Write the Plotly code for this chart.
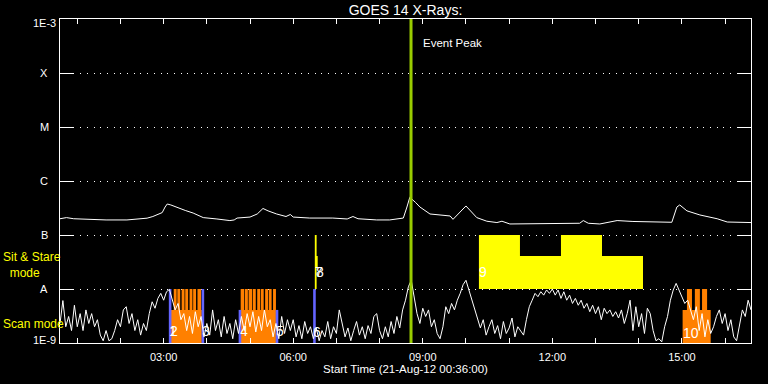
import pandas as pd
import numpy as np
import plotly.graph_objects as go

DAY = "2012-08-21"
START = "00:36"
END = "16:36"

# GOES long channel (1-8 A) flux, W/m^2
long_times = ["00:36", "00:45", "00:55", "01:15", "01:40", "02:09", "02:25", "02:37", "02:45",
              "02:51", "02:58", "03:02", "03:05", "03:10", "03:19", "03:30", "03:41", "03:55",
              "04:14", "04:32", "04:38", "04:42", "05:00", "05:10", "05:18", "05:25", "05:37",
              "05:50", "05:56", "06:00", "06:23", "06:55", "07:15", "07:23", "07:30", "07:56",
              "08:14", "08:33", "08:38", "08:42", "08:50", "08:56", "09:10", "09:28", "09:38",
              "09:42", "09:49", "10:00", "10:15", "10:29", "10:43", "10:50", "11:01", "11:40",
              "12:00", "12:20", "12:38", "12:43", "12:50", "13:06", "13:30", "13:52", "14:16",
              "14:39", "14:46", "14:53", "14:57", "15:07", "15:25", "15:49", "16:03", "16:36"]
long_flux = [2.0e-7, 2.1e-7, 2.0e-7, 1.95e-7, 1.9e-7, 1.9e-7, 1.95e-7, 2.05e-7, 2.2e-7,
             2.35e-7, 2.6e-7, 3.3e-7, 3.75e-7, 3.6e-7, 3.2e-7, 2.85e-7, 2.55e-7, 2.1e-7,
             1.98e-7, 1.85e-7, 1.9e-7, 2.06e-7, 2.15e-7, 2.45e-7, 3.1e-7, 2.8e-7, 2.45e-7,
             2.2e-7, 2.4e-7, 2.15e-7, 2.06e-7, 2.06e-7, 1.98e-7, 2.2e-7, 2.0e-7, 1.9e-7,
             1.9e-7, 2.06e-7, 3.3e-7, 5.0e-7, 4.0e-7, 3.3e-7, 2.45e-7, 2.35e-7, 2.25e-7,
             1.95e-7, 2.45e-7, 3.45e-7, 2.1e-7, 1.8e-7, 1.7e-7, 1.8e-7, 1.6e-7, 1.6e-7,
             1.62e-7, 1.6e-7, 1.65e-7, 1.85e-7, 1.65e-7, 1.6e-7, 1.85e-7, 1.78e-7, 1.74e-7,
             1.74e-7, 1.72e-7, 3.3e-7, 3.6e-7, 2.8e-7, 2.35e-7, 2.0e-7, 1.74e-7, 1.7e-7]

# GOES short channel (0.5-4 A) flux, W/m^2, 4-minute cadence from START
short_cadence = "4min"
short_flux = [
    2.3e-9, 6.1e-9, 2.0e-9, 3.1e-9, 1.7e-9, 5.0e-9, 2.0e-9, 3.5e-9, 1.7e-9, 4.1e-9,
    2.3e-9, 3.5e-9, 2.0e-9, 2.7e-9, 1.4e-9, 1.1e-9, 1.7e-9, 1.1e-9, 1.2e-9, 1.7e-9,
    2.7e-9, 2.0e-9, 4.1e-9, 4.7e-9, 2.3e-9, 3.5e-9, 1.7e-9, 2.7e-9, 1.4e-9, 2.3e-9,
    1.7e-9, 3.5e-9, 5.8e-9, 4.4e-9, 6.7e-9, 8.3e-9, 6.2e-9, 8.9e-9, 9.8e-9, 6.2e-9,
    4.1e-9, 5.4e-9, 2.7e-9, 3.5e-9, 1.7e-9, 3.1e-9, 1.5e-9, 3.8e-9, 2.0e-9, 3.1e-9,
    1.3e-9, 2.3e-9, 1.4e-9, 4.1e-9, 1.7e-9, 2.7e-9, 1.3e-9, 3.1e-9, 1.5e-9, 2.3e-9,
    1.2e-9, 2.7e-9, 1.5e-9, 3.1e-9, 1.7e-9, 3.5e-9, 2.0e-9, 3.8e-9, 1.6e-9, 3.1e-9,
    1.7e-9, 4.1e-9, 2.0e-9, 2.7e-9, 1.3e-9, 2.3e-9, 1.2e-9, 3.1e-9, 1.5e-9, 2.7e-9,
    1.7e-9, 2.7e-9, 1.3e-9, 2.1e-9, 1.2e-9, 2.5e-9, 1.5e-9, 2.0e-9, 1.2e-9, 1.9e-9,
    1.1e-9, 1.7e-9, 1.3e-9, 2.5e-9, 1.2e-9, 2.0e-9, 1.5e-9, 4.1e-9, 2.3e-9, 1.3e-9,
    1.9e-9, 1.1e-9, 1.7e-9, 2.5e-9, 1.4e-9, 2.0e-9, 1.2e-9, 2.1e-9, 1.5e-9, 3.1e-9,
    3.5e-9, 1.7e-9, 1.2e-9, 2.0e-9, 1.3e-9, 2.5e-9, 1.5e-9, 3.1e-9, 1.9e-9, 4.1e-9,
    6.2e-9, 1.1e-8, 1.45e-8, 7.2e-9, 3.5e-9, 2.3e-9, 4.4e-9, 3.1e-9, 4.1e-9, 2.0e-9,
    2.7e-9, 1.5e-9, 1.2e-9, 2.0e-9, 4.7e-9, 3.5e-9, 5.4e-9, 4.1e-9, 6.2e-9, 8.3e-9,
    1.2e-8, 1.45e-8, 9.6e-9, 6.7e-9, 4.7e-9, 3.1e-9, 1.9e-9, 2.7e-9, 1.4e-9, 2.0e-9,
    2.7e-9, 1.5e-9, 2.1e-9, 1.2e-9, 2.5e-9, 1.5e-9, 1.9e-9, 2.9e-9, 1.3e-9, 2.0e-9,
    1.7e-9, 1.4e-9, 2.7e-9, 4.7e-9, 6.2e-9, 8.3e-9, 7.2e-9, 8.9e-9, 7.7e-9, 9.6e-9,
    8.3e-9, 1.0e-8, 7.7e-9, 9.6e-9, 6.7e-9, 8.9e-9, 6.2e-9, 7.7e-9, 5.4e-9, 6.7e-9,
    5.0e-9, 6.2e-9, 4.4e-9, 5.4e-9, 3.8e-9, 5.0e-9, 3.5e-9, 4.7e-9, 2.7e-9, 4.4e-9,
    3.5e-9, 4.1e-9, 3.1e-9, 3.8e-9, 2.9e-9, 4.1e-9, 2.3e-9, 3.5e-9, 6.2e-9, 1.7e-9,
    4.7e-9, 2.0e-9, 3.5e-9, 1.5e-9, 4.4e-9, 3.5e-9, 1.7e-9, 1.1e-9, 1.2e-9, 1.05e-9,
    2.0e-9, 3.1e-9, 6.2e-9, 9.6e-9, 1.27e-8, 9.6e-9, 7.2e-9, 5.4e-9, 6.2e-9, 4.1e-9,
    2.7e-9, 4.7e-9, 1.7e-9, 3.5e-9, 1.3e-9, 2.7e-9, 1.5e-9, 2.0e-9, 3.1e-9, 4.1e-9,
    2.3e-9, 3.5e-9, 1.7e-9, 2.7e-9, 1.3e-9, 1.1e-9, 2.3e-9, 4.1e-9, 3.1e-9, 6.2e-9, 4.1e-9]

event_peak = "08:43:40"

# y axis: flux levels and their labels
class_flux = [1e-9, 1e-8, 1e-7, 1e-6, 1e-5, 1e-4, 1e-3]
class_labels = ["1E-9", "A", "B", "C", "M", "X", "1E-3"]

# Scan-mode observations (orange)
scan_starts = ["03:10", "04:47", "15:01"]
scan_ends = ["03:53", "05:36", "15:40"]
scan_low = 1e-9
scan_mid = 4.1e-9
scan_high = 1e-8
stripe_starts = ["03:14", "03:19", "03:25", "03:30", "03:36", "03:41", "03:47",
                 "04:47", "04:53", "04:58", "05:04", "05:10", "05:15", "05:21", "05:26", "05:32",
                 "15:07", "15:18", "15:28"]
stripe_ends = ["03:18", "03:23", "03:29", "03:34", "03:40", "03:45", "03:52",
               "04:52", "04:57", "05:03", "05:08", "05:14", "05:19", "05:25", "05:30", "05:36",
               "15:14", "15:25", "15:35"]

# Context markers (blue)
marker_times = ["03:09", "03:54:30", "04:46", "05:37:30", "06:29:30"]
marker_tops = [1e-8, 1e-8, 4.1e-9, 4.1e-9, 1e-8]

# Sit & stare observations (yellow)
ss_starts = ["06:30:00", "06:30:00", "10:18", "11:15", "12:12", "13:09"]
ss_ends = ["06:32:30", "06:34:00", "11:15", "12:12", "13:09", "14:06"]
ss_bottoms = [1e-8, 2.55e-8, 1e-8, 1e-8, 1e-8, 1e-8]
ss_tops = [1e-7, 4.1e-8, 1e-7, 4.1e-8, 1e-7, 4.1e-8]

# Observation numbers
obs_text = ["1", "2", "3", "4", "5", "6", "7", "8", "9", "10"]
obs_times = ["03:13", "03:15", "03:59", "04:52", "05:42", "06:33", "06:36", "06:37", "10:23", "15:12"]
obs_flux = [1.67e-9, 1.67e-9, 1.67e-9, 1.67e-9, 1.67e-9, 1.6e-9, 2.1e-8, 2.1e-8, 2.05e-8, 1.55e-9]

# mode label positions (flux level of the label centre)
sit_stare_label_flux = 2.75e-8
scan_label_flux = 2.25e-9

FONT = "Liberation Sans"
WHITE = "#ffffff"
ORANGE = "#ff8000"
BLUE = "#6464ff"
YELLOW = "#ffff00"
GREEN = "#99cc00"


def T(s):
    return pd.Timestamp(f"{DAY} {s}")


def rect_path(t0s, t1s, lows, highs):
    xs, ys = [], []
    for a, b, lo, hi in zip(t0s, t1s, lows, highs):
        xs += [T(a), T(b), T(b), T(a), T(a), None]
        ys += [lo, lo, hi, hi, lo, None]
    return xs, ys


fig = go.Figure()

# orange scan blocks
xs, ys = rect_path(scan_starts, scan_ends, [scan_low] * 3, [scan_mid] * 3)
fig.add_trace(go.Scatter(x=xs, y=ys, fill="toself", fillcolor=ORANGE, mode="lines",
                         line=dict(width=0, color=ORANGE), hoverinfo="skip"))
xs, ys = rect_path(stripe_starts, stripe_ends, [scan_mid] * len(stripe_starts),
                   [scan_high] * len(stripe_starts))
fig.add_trace(go.Scatter(x=xs, y=ys, fill="toself", fillcolor=ORANGE, mode="lines",
                         line=dict(width=0, color=ORANGE), hoverinfo="skip"))

# yellow sit & stare
xs, ys = rect_path(ss_starts, ss_ends, ss_bottoms, ss_tops)
fig.add_trace(go.Scatter(x=xs, y=ys, fill="toself", fillcolor=YELLOW, mode="lines",
                         line=dict(width=0, color=YELLOW), hoverinfo="skip"))

# blue markers
mx, my = [], []
for t, top in zip(marker_times, marker_tops):
    mx += [T(t), T(t), None]
    my += [scan_low, top, None]
fig.add_trace(go.Scatter(x=mx, y=my, mode="lines", line=dict(color=BLUE, width=2.6),
                         hoverinfo="skip"))

# GOES curves
fig.add_trace(go.Scatter(x=[T(t) for t in long_times], y=long_flux, mode="lines",
                         line=dict(color=WHITE, width=1, shape="linear")))
short_times = pd.date_range(T(START), periods=len(short_flux), freq=short_cadence)
fig.add_trace(go.Scatter(x=short_times, y=short_flux, mode="lines",
                         line=dict(color=WHITE, width=1)))

# event peak line
fig.add_trace(go.Scatter(x=[T(event_peak), T(event_peak)], y=[class_flux[0], class_flux[-1]],
                         mode="lines", line=dict(color=GREEN, width=3), hoverinfo="skip"))

annotations = []
# y tick labels, centered like the original
label_shift = {"1E-3": -4, "1E-9": 3}
for v, lab in zip(class_flux, class_labels):
    annotations.append(dict(x=-16 / 691, xref="paper", y=np.log10(v), yref="y", text=lab,
                            showarrow=False, xanchor="center", yanchor="middle",
                            yshift=label_shift.get(lab, 0),
                            font=dict(family=FONT, size=11, color=WHITE)))
# observation numbers
for txt, t, f in zip(obs_text, obs_times, obs_flux):
    annotations.append(dict(x=T(t), xref="x", y=np.log10(f), yref="y", text=txt,
                            showarrow=False, xanchor="center", yanchor="middle",
                            font=dict(family=FONT, size=14, color=WHITE)))
annotations.append(dict(x=T(event_peak), xref="x", xshift=10, y=1 - 24 / 324, yref="paper",
                        text="Event Peak", showarrow=False, xanchor="left", yanchor="middle",
                        font=dict(family=FONT, size=11.5, color=WHITE)))
# mode labels
annotations.append(dict(x=-59 / 691, xref="paper", y=np.log10(sit_stare_label_flux), yref="y",
                        text="Sit & Stare<br>  mode", showarrow=False, xanchor="left",
                        yanchor="middle", align="left",
                        font=dict(family=FONT, size=12, color=YELLOW)))
annotations.append(dict(x=-59 / 691, xref="paper", y=np.log10(scan_label_flux), yref="y",
                        text="Scan mode", showarrow=False, xanchor="left", yanchor="middle",
                        font=dict(family=FONT, size=12, color=YELLOW)))

fig.update_layout(
    width=768, height=384,
    margin=dict(l=60, r=17, t=19, b=41, pad=0),
    paper_bgcolor="black", plot_bgcolor="black",
    showlegend=False,
    font=dict(family=FONT, size=11, color=WHITE),
    title=dict(text="GOES 14 X-Rays:", x=0.5, xref="paper", y=1 - 10 / 384, yref="container",
               xanchor="center", yanchor="middle",
               font=dict(family=FONT, size=14, color=WHITE)),
    annotations=annotations,
)

fig.update_xaxes(
    type="date", range=[T(START), T(END)],
    showline=True, linecolor=WHITE, linewidth=1, mirror="ticks",
    ticks="inside", ticklen=5, tickcolor=WHITE, tickwidth=1,
    dtick=3 * 3600 * 1000, tick0=T("03:00"), tickformat="%H:%M",
    tickfont=dict(family=FONT, size=11, color=WHITE), ticklabelstandoff=4,
    minor=dict(dtick=3600 * 1000, ticks="inside", ticklen=5, tickcolor=WHITE, showgrid=False),
    showgrid=False, zeroline=False,
    title=dict(text="Start Time (21-Aug-12 00:36:00)", standoff=2,
               font=dict(family=FONT, size=11.5, color=WHITE)),
)
fig.update_yaxes(
    type="log", range=[-9, -3],
    showline=True, linecolor=WHITE, linewidth=1, mirror="ticks",
    ticks="inside", ticklen=14, tickcolor=WHITE, tickwidth=1,
    tickvals=class_flux, showticklabels=False,
    showgrid=True, gridcolor=WHITE, gridwidth=1, griddash="1px,5.7px",
    zeroline=False,
)

page_style = ("document.body.style.margin='0';document.body.style.padding='0';"
              "document.body.style.background='black';document.body.style.overflow='hidden';")
fig.write_html("out.html", post_script=page_style, config={"displayModeBar": False})
